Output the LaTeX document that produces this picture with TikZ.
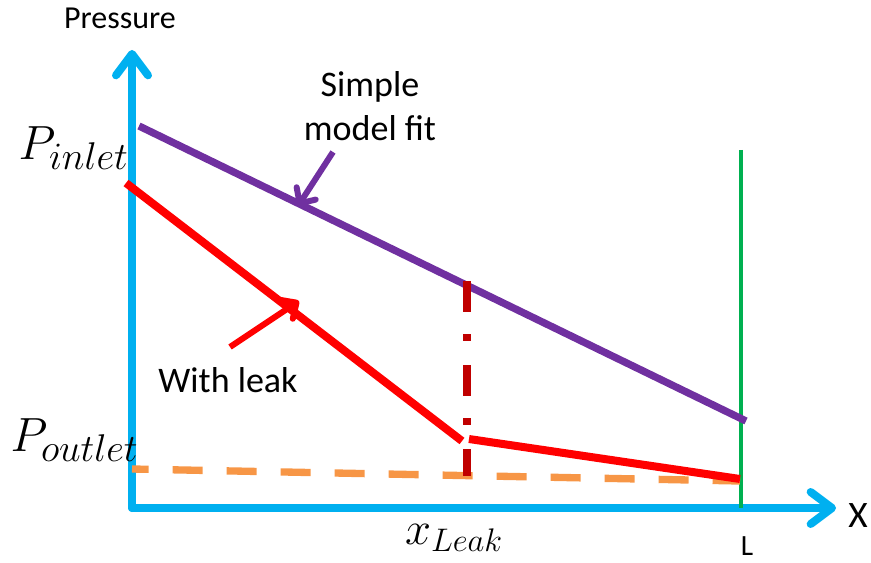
\RequirePackage{fix-cm}
\documentclass[tikz,border=0pt]{standalone}
\usepackage{fontspec}
\setmainfont{Carlito}
\usetikzlibrary{arrows.meta}
\DeclareMathSizes{36}{36}{29}{21}

\definecolor{axisblue}{RGB}{0,176,240}
\definecolor{fitpurple}{RGB}{112,48,160}
\definecolor{leakred}{RGB}{255,0,0}
\definecolor{darkred}{RGB}{192,0,0}
\definecolor{lorange}{RGB}{247,150,70}
\definecolor{lgreen}{RGB}{0,176,80}

\begin{document}
\begin{tikzpicture}[x=0.75pt,y=-0.75pt,
  axis/.style={line width=6pt,draw=axisblue,line cap=round,
    -{Straight Barb[length=16pt,width=24pt,round]}},
  curve/.style={line width=5.5pt},
  pointer/.style={line width=4.5pt,-{Straight Barb[length=9pt,width=17pt,round]}},
  lbl/.style={font=\fontsize{27}{33}\selectfont,align=center},
  mathlbl/.style={font=\fontsize{36}{40}\selectfont}]
  \useasboundingbox (0,0) rectangle (871,563);

  % Axes
  \coordinate (O) at (132,508);
  \coordinate (Ytip) at (132,50);
  \coordinate (Xtip) at (836,508);
  \draw[axis] (O) -- (Ytip);
  \draw[axis] (O) -- (Xtip);
  \node[font=\fontsize{24}{28}\selectfont] (ylab) at (120,18) {Pressure};
  \node[font=\fontsize{28}{32}\selectfont] (xlab) at (858,516) {X};
  \node[font=\fontsize{22}{26}\selectfont,anchor=base,inner sep=0pt] (Llab) at (747,555) {L};

  % Pipe end
  \coordinate (Ltop) at (741,150);
  \coordinate (Lbot) at (741,508);
  \draw[lgreen,line width=2.4pt] (Ltop) -- (Lbot);

  % Outlet pressure level
  \coordinate (out1) at (132,469);
  \coordinate (out2) at (740,481);
  \draw[lorange,curve,dash pattern=on 22.5pt off 18pt,dash phase=10pt] (out1) -- (out2);

  % Simple model fit
  \coordinate (fit1) at (139,126);
  \coordinate (fit2) at (746,421);
  \draw[fitpurple,curve] (fit1) -- (fit2);

  % With leak
  \coordinate (lk1) at (126,183);
  \coordinate (lk2) at (462,441);
  \coordinate (lk3) at (469,439);
  \coordinate (lk4) at (740,479);
  \draw[leakred,line width=6pt] (lk1) -- (lk2);
  \draw[leakred,line width=6pt] (lk3) -- (lk4);

  % Leak position
  \coordinate (xl1) at (467,281);
  \coordinate (xl2) at (467,476);
  \draw[darkred,curve,dash pattern=on 23pt off 17pt on 5pt off 18pt] (xl1) -- (xl2);

  % Labels and pointers
  \node[lbl] (fitlab) at (370,106) {Simple\\model fit};
  \coordinate (fitp) at (333,152);
  \coordinate (fitq) at (298,206);
  \draw[fitpurple,pointer] (fitp) -- (fitq);

  \node[lbl] (leaklab) at (228,380) {With leak};
  \coordinate (leakp) at (230,347);
  \coordinate (leakq) at (299,301);
  \draw[leakred,pointer] (leakp) -- (leakq);

  \node[mathlbl,anchor=west] (pin) at (14,148) {$P_{inlet}$};
  \node[mathlbl,anchor=west] (pout) at (6,440) {$P_{outlet}$};
  \node[font=\fontsize{35}{40}\selectfont] (xleak) at (454,538) {$x_{Leak}$};
\end{tikzpicture}
\end{document}
